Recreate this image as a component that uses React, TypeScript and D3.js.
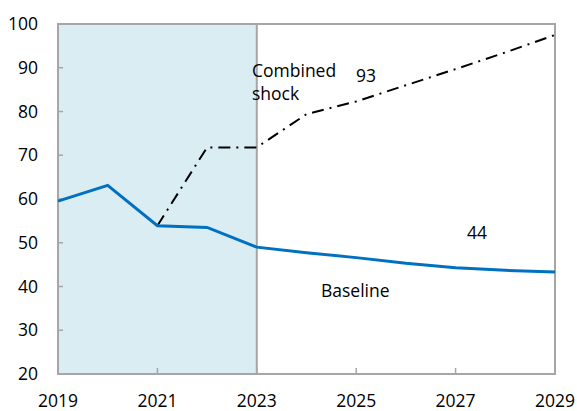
import React from "react";
import * as d3 from "d3";

const years = [2019, 2020, 2021, 2022, 2023, 2024, 2025, 2026, 2027, 2028, 2029];
const baseline = [59.5, 63.1, 53.9, 53.5, 49.0, 47.7, 46.6, 45.3, 44.3, 43.7, 43.3];
const shockYears = [2021, 2022, 2023, 2024, 2025, 2026, 2027, 2028, 2029];
const shock = [53.9, 71.8, 71.8, 79.4, 82.3, 86.0, 89.7, 93.5, 97.5];
const yTicks = [20, 30, 40, 50, 60, 70, 80, 90, 100];
const xTicks = [2019, 2021, 2023, 2025, 2027, 2029];
const shadeRange = [2019, 2023];

export default function App() {
  const W = 577, H = 411;
  const m = { left: 58, right: 555, top: 24, bottom: 374 };
  const x = d3.scaleLinear().domain([2019, 2029]).range([m.left, m.right]);
  const y = d3.scaleLinear().domain([20, 100]).range([m.bottom, m.top]);
  const line = d3.line<[number, number]>().x(d => x(d[0])).y(d => y(d[1]));
  const basePts = years.map((yr, i) => [yr, baseline[i]] as [number, number]);
  const shockPts = shockYears.map((yr, i) => [yr, shock[i]] as [number, number]);
  const axisColor = "#a6a6a6";
  const font = "'Open Sans', 'Noto Sans', sans-serif";
  const fs = 17.5;
  return (
    <svg width={W} height={H} style={{ position: "absolute", left: 0, top: 0 }} fontFamily={font}>
      <rect x={x(shadeRange[0])} y={m.top} width={x(shadeRange[1]) - x(shadeRange[0])} height={m.bottom - m.top} fill="#daedf3" />
      {yTicks.slice(1, -1).map(t => (
        <line key={"yt" + t} x1={m.left} x2={m.left + 5} y1={y(t)} y2={y(t)} stroke={axisColor} strokeWidth={1.5} />
      ))}
      {xTicks.slice(1, -1).map(t => (
        <line key={"xt" + t} x1={x(t)} x2={x(t)} y1={m.bottom} y2={m.bottom - 6} stroke={axisColor} strokeWidth={1.5} />
      ))}
      <line x1={x(2023)} x2={x(2023)} y1={m.top} y2={m.bottom} stroke={axisColor} strokeWidth={2} />
      <rect x={m.left} y={m.top} width={m.right - m.left} height={m.bottom - m.top} fill="none" stroke={axisColor} strokeWidth={2} />
      <path d={line(shockPts) || ""} fill="none" stroke="#000" strokeWidth={2} strokeDasharray="12 6 2 6" />
      <path d={line(basePts) || ""} fill="none" stroke="#0070c0" strokeWidth={3} />
      {yTicks.map(t => (
        <text key={"yl" + t} x={38} y={y(t)} dy="0.35em" textAnchor="end" fontSize={fs} fill="#000">{t}</text>
      ))}
      {xTicks.map(t => (
        <text key={"xl" + t} x={x(t)} y={407} textAnchor="middle" fontSize={fs} fill="#000">{t}</text>
      ))}
      <text x={252} y={77} fontSize={fs}>Combined</text>
      <text x={252} y={100} fontSize={fs}>shock</text>
      <text x={356} y={82} fontSize={fs}>93</text>
      <text x={467} y={239} fontSize={fs}>44</text>
      <text x={321} y={297} fontSize={fs}>Baseline</text>
    </svg>
  );
}
